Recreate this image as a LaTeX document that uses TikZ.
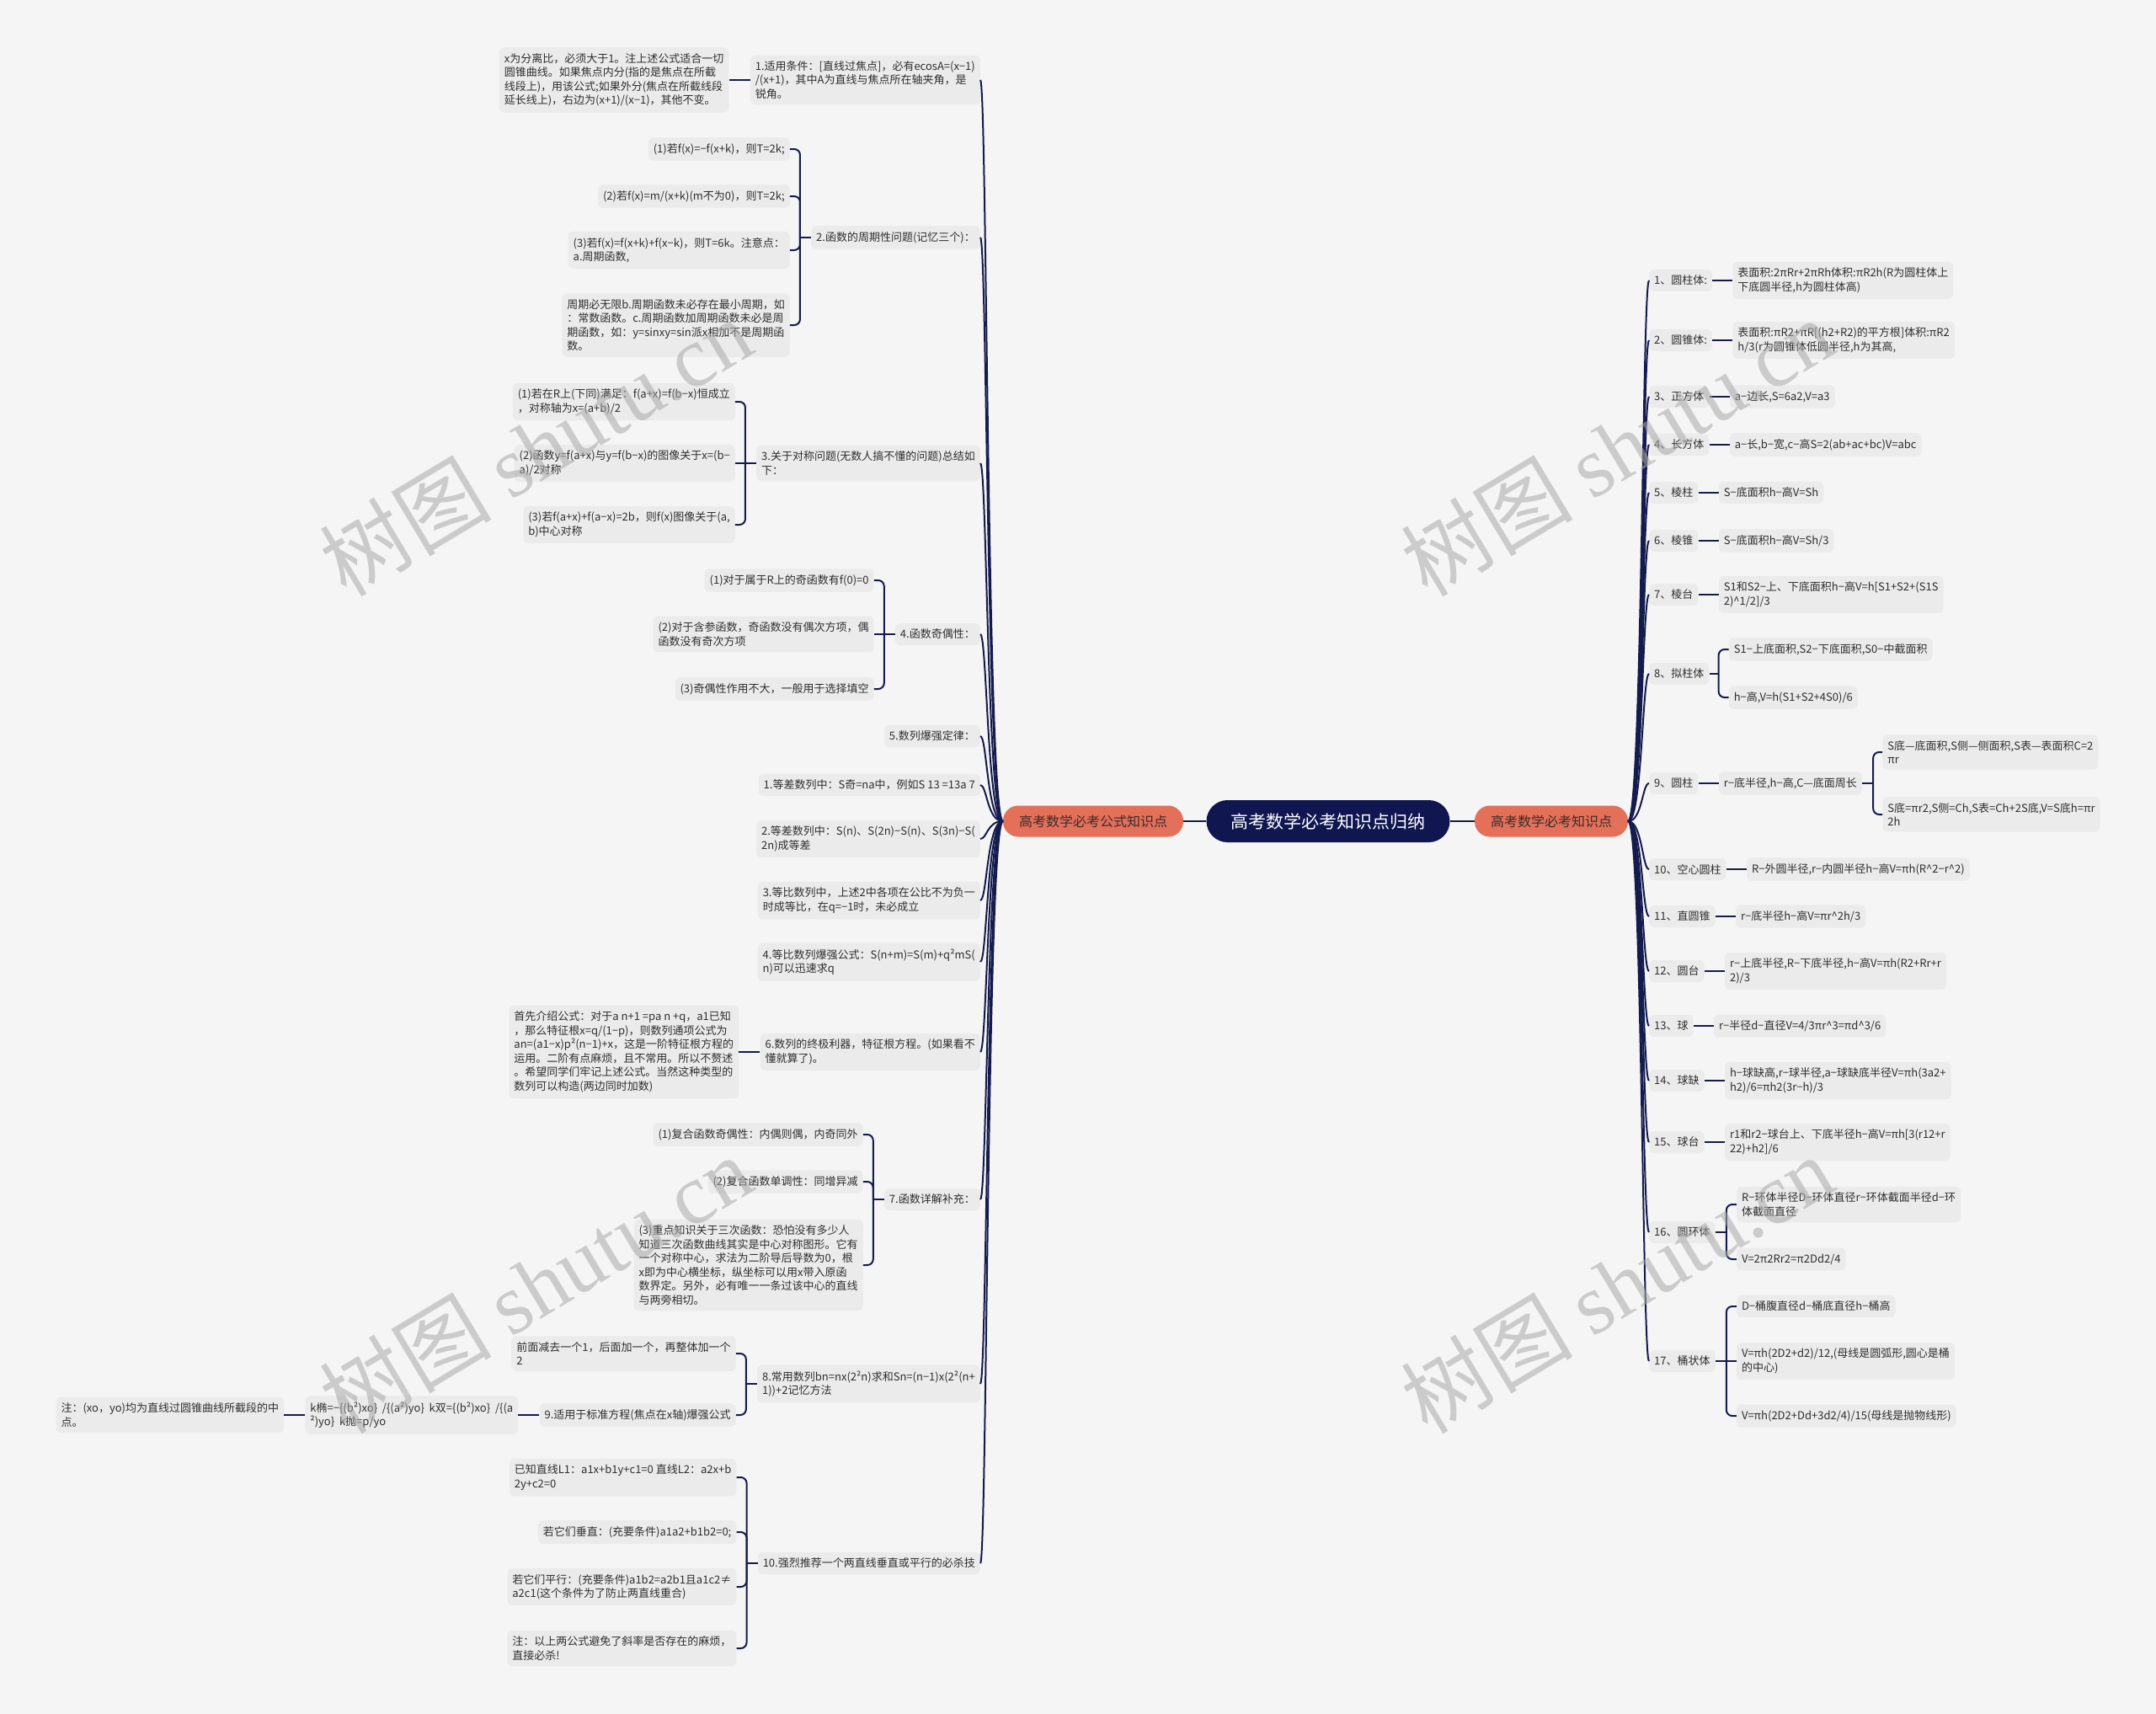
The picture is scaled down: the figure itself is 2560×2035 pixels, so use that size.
\documentclass[tikz,border=0pt]{standalone}
\usepackage{fontspec}
\setmainfont{Noto Sans CJK SC}
\newfontfamily\wmserif{Liberation Serif}
\newfontfamily\wmcjk{Noto Sans CJK SC}
\definecolor{bg}{HTML}{F5F5F5}
\definecolor{boxc}{HTML}{EBEBEB}
\definecolor{navy}{HTML}{141B4D}
\definecolor{rootc}{HTML}{0F1650}
\definecolor{salmon}{HTML}{E4705A}
\definecolor{txt}{HTML}{2E2E2E}
\definecolor{brtxt}{HTML}{3A2C2A}
\definecolor{wm}{HTML}{A9A9A9}
\newcommand\ca{\textasciicircum}
\begin{document}
\begin{tikzpicture}[x=1pt,y=-1pt,
  box/.style={fill=boxc, rounded corners=6pt, inner xsep=6pt, inner ysep=7pt, align=left, text=txt, font=\fontsize{13}{16.5}\selectfont},
  lbox/.style={box, anchor=east},
  rbox/.style={box, anchor=west},
  rootnode/.style={fill=rootc, text=white, rounded corners=25pt, minimum height=50pt, inner xsep=29pt, font=\fontsize{21}{24}\selectfont},
  branch/.style={fill=salmon, text=brtxt, rounded corners=18pt, minimum height=37pt, inner xsep=19pt, font=\fontsize{16}{18}\selectfont},
  conn/.style={draw=navy, line width=2pt},
  bconn/.style={conn, rounded corners=7pt},
  wmark/.style={text=wm, text opacity=0.55, rotate=31, font=\fontsize{102}{104}\selectfont}]
\useasboundingbox (0,0) rectangle (2560,2035);
\fill[bg] (0,0) rectangle (2560,2035);

% centre
\node[rootnode] (root) at (1577,975) {高考数学必考知识点归纳};
\node[branch] (LB) at (1298,975) {高考数学必考公式知识点};
\node[branch] (RB) at (1842,975) {高考数学必考知识点};
\draw[conn] (root.west) -- (LB.east);
\draw[conn] (root.east) -- (RB.west);

% ---------- left level 2
\node[lbox] (L1) at (1164,95) {1.适用条件：[直线过焦点]，必有ecosA=(x−1)\\/(x+1)，其中A为直线与焦点所在轴夹角，是\\锐角。};
\node[lbox] (L2) at (1164,282) {2.函数的周期性问题(记忆三个)：};
\node[lbox] (L3) at (1164,550) {3.关于对称问题(无数人搞不懂的问题)总结如\\下：};
\node[lbox] (L4) at (1164,753) {4.函数奇偶性：};
\node[lbox] (L5) at (1164,874) {5.数列爆强定律：};
\node[lbox] (L6) at (1164,932) {1.等差数列中：S奇=na中，例如S 13 =13a 7};
\node[lbox] (L7) at (1164,996) {2.等差数列中：S(n)、S(2n)−S(n)、S(3n)−S(\\2n)成等差};
\node[lbox] (L8) at (1164,1069) {3.等比数列中，上述2中各项在公比不为负一\\时成等比，在q=−1时，未必成立};
\node[lbox] (L9) at (1164,1142) {4.等比数列爆强公式：S(n+m)=S(m)+q²mS(\\n)可以迅速求q};
\node[lbox] (L10) at (1164,1249) {6.数列的终极利器，特征根方程。(如果看不\\懂就算了)。};
\node[lbox] (L11) at (1164,1424) {7.函数详解补充：};
\node[lbox] (L12) at (1164,1643) {8.常用数列bn=nx(2²n)求和Sn=(n−1)x(2²(n+\\1))+2记忆方法};
\node[lbox] (L13) at (1164,1856) {10.强烈推荐一个两直线垂直或平行的必杀技};

\coordinate (ltx) at (1172,0);
\foreach \n in {L1,L2,L3,L4,L5,L6,L7,L8,L9,L10,L11,L12,L13}
  \draw[conn] (LB.west) .. controls (1172,975) and (ltx |- \n.east) .. (\n.east);

% L1 child
\node[lbox] (L1c) at ([xshift=-25pt]L1.west) {x为分离比，必须大于1。注上述公式适合一切\\圆锥曲线。如果焦点内分(指的是焦点在所截\\线段上)，用该公式;如果外分(焦点在所截线段\\延长线上)，右边为(x+1)/(x−1)，其他不变。};
\draw[conn] (L1.west) -- (L1c.east);

% L2 bracket
\coordinate (j2) at ([xshift=-13pt]L2.west);
\coordinate (j2x) at ([xshift=-12pt]j2);
\node[lbox] (L2a) at (j2x |- 0,177) {(1)若f(x)=−f(x+k)，则T=2k;};
\node[lbox] (L2b) at (j2x |- 0,233) {(2)若f(x)=m/(x+k)(m不为0)，则T=2k;};
\node[lbox] (L2c) at (j2x |- 0,297) {(3)若f(x)=f(x+k)+f(x−k)，则T=6k。注意点：\\a.周期函数,};
\node[lbox] (L2d) at (j2x |- 0,386) {周期必无限b.周期函数未必存在最小周期，如\\：常数函数。c.周期函数加周期函数未必是周\\期函数，如：y=sinxy=sin派x相加不是周期函\\数。};
\draw[conn] (L2.west) -- (j2);
\foreach \c in {L2a,L2b,L2c,L2d} \draw[bconn] (j2) |- (\c.east);

% L3 bracket
\coordinate (j3) at ([xshift=-13pt]L3.west);
\coordinate (j3x) at ([xshift=-12pt]j3);
\node[lbox] (L3a) at (j3x |- 0,477) {(1)若在R上(下同)满足：f(a+x)=f(b−x)恒成立\\，对称轴为x=(a+b)/2};
\node[lbox] (L3b) at (j3x |- 0,550) {(2)函数y=f(a+x)与y=f(b−x)的图像关于x=(b−\\a)/2对称};
\node[lbox] (L3c) at (j3x |- 0,623) {(3)若f(a+x)+f(a−x)=2b，则f(x)图像关于(a,\\b)中心对称};
\draw[conn] (L3.west) -- (j3);
\draw[bconn] (j3) |- (L3a.east);
\draw[conn] (j3) -- (L3b.east);
\draw[bconn] (j3) |- (L3c.east);

% L4 bracket
\coordinate (j4) at ([xshift=-13pt]L4.west);
\coordinate (j4x) at ([xshift=-12pt]j4);
\node[lbox] (L4a) at (j4x |- 0,689) {(1)对于属于R上的奇函数有f(0)=0};
\node[lbox] (L4b) at (j4x |- 0,753) {(2)对于含参函数，奇函数没有偶次方项，偶\\函数没有奇次方项};
\node[lbox] (L4c) at (j4x |- 0,818) {(3)奇偶性作用不大，一般用于选择填空};
\draw[conn] (L4.west) -- (j4);
\draw[bconn] (j4) |- (L4a.east);
\draw[conn] (j4) -- (L4b.east);
\draw[bconn] (j4) |- (L4c.east);

% L10 child
\node[lbox] (L10c) at ([xshift=-25pt]L10.west) {首先介绍公式：对于a n+1 =pa n +q，a1已知\\，那么特征根x=q/(1−p)，则数列通项公式为\\an=(a1−x)p²(n−1)+x，这是一阶特征根方程的\\运用。二阶有点麻烦，且不常用。所以不赘述\\。希望同学们牢记上述公式。当然这种类型的\\数列可以构造(两边同时加数)};
\draw[conn] (L10.west) -- (L10c.east);

% L11 bracket
\coordinate (j11) at ([xshift=-13pt]L11.west);
\coordinate (j11x) at ([xshift=-12pt]j11);
\node[lbox] (L11a) at (j11x |- 0,1347) {(1)复合函数奇偶性：内偶则偶，内奇同外};
\node[lbox] (L11b) at (j11x |- 0,1403) {(2)复合函数单调性：同增异减};
\node[lbox] (L11c) at (j11x |- 0,1502) {(3)重点知识关于三次函数：恐怕没有多少人\\知道三次函数曲线其实是中心对称图形。它有\\一个对称中心，求法为二阶导后导数为0，根\\x即为中心横坐标，纵坐标可以用x带入原函\\数界定。另外，必有唯一一条过该中心的直线\\与两旁相切。};
\draw[conn] (L11.west) -- (j11);
\foreach \c in {L11a,L11b,L11c} \draw[bconn] (j11) |- (\c.east);

% L12 bracket
\coordinate (j12) at ([xshift=-13pt]L12.west);
\coordinate (j12x) at ([xshift=-12pt]j12);
\node[lbox] (L12a) at (j12x |- 0,1607) {前面减去一个1，后面加一个，再整体加一个\\2};
\node[lbox] (L12b) at (j12x |- 0,1680) {9.适用于标准方程(焦点在x轴)爆强公式};
\draw[conn] (L12.west) -- (j12);
\foreach \c in {L12a,L12b} \draw[bconn] (j12) |- (\c.east);
\node[lbox] (L12c) at ([xshift=-25pt]L12b.west) {k椭=−\{(b²)xo\}~~/\{(a²)yo\}~~k双=\{(b²)xo\}~~/\{(a\\²)yo\}~~k抛=p/yo};
\draw[conn] (L12b.west) -- (L12c.east);
\node[lbox] (L12d) at ([xshift=-25pt]L12c.west) {注：(xo，yo)均为直线过圆锥曲线所截段的中\\点。};
\draw[conn] (L12c.west) -- (L12d.east);

% L13 bracket
\coordinate (j13) at ([xshift=-13pt]L13.west);
\coordinate (j13x) at ([xshift=-12pt]j13);
\node[lbox] (L13a) at (j13x |- 0,1754) {已知直线L1：a1x+b1y+c1=0 直线L2：a2x+b\\2y+c2=0};
\node[lbox] (L13b) at (j13x |- 0,1819) {若它们垂直：(充要条件)a1a2+b1b2=0;};
\node[lbox] (L13c) at (j13x |- 0,1884) {若它们平行：(充要条件)a1b2=a2b1且a1c2≠\\a2c1(这个条件为了防止两直线重合)};
\node[lbox] (L13d) at (j13x |- 0,1957) {注：以上两公式避免了斜率是否存在的麻烦，\\直接必杀!};
\draw[conn] (L13.west) -- (j13);
\foreach \c in {L13a,L13b,L13c,L13d} \draw[bconn] (j13) |- (\c.east);

% ---------- right level 2
\node[rbox] (R1) at (1958,333) {1、圆柱体:};
\node[rbox] (R2) at (1958,404) {2、圆锥体:};
\node[rbox] (R3) at (1958,471) {3、正方体};
\node[rbox] (R4) at (1958,528) {4、长方体};
\node[rbox] (R5) at (1958,585) {5、棱柱};
\node[rbox] (R6) at (1958,642) {6、棱锥};
\node[rbox] (R7) at (1958,706) {7、棱台};
\node[rbox] (R8) at (1958,800) {8、拟柱体};
\node[rbox] (R9) at (1958,930) {9、圆柱};
\node[rbox] (R10) at (1958,1032) {10、空心圆柱};
\node[rbox] (R11) at (1958,1088) {11、直圆锥};
\node[rbox] (R12) at (1958,1153) {12、圆台};
\node[rbox] (R13) at (1958,1218) {13、球};
\node[rbox] (R14) at (1958,1283) {14、球缺};
\node[rbox] (R15) at (1958,1356) {15、球台};
\node[rbox] (R16) at (1958,1463) {16、圆环体};
\node[rbox] (R17) at (1958,1616) {17、桶状体};

\coordinate (rtx) at (1950,0);
\foreach \n in {R1,R2,R3,R4,R5,R6,R7,R8,R9,R10,R11,R12,R13,R14,R15,R16,R17}
  \draw[conn] (RB.east) .. controls (1950,975) and (rtx |- \n.west) .. (\n.west);

% right single children
\node[rbox] (R1c) at ([xshift=24pt]R1.east) {表面积:2πRr+2πRh体积:πR2h(R为圆柱体上\\下底圆半径,h为圆柱体高)};
\node[rbox] (R2c) at ([xshift=24pt]R2.east) {表面积:πR2+πR[(h2+R2)的平方根]体积:πR2\\h/3(r为圆锥体低圆半径,h为其高,};
\node[rbox] (R3c) at ([xshift=24pt]R3.east) {a−边长,S=6a2,V=a3};
\node[rbox] (R4c) at ([xshift=24pt]R4.east) {a−长,b−宽,c−高S=2(ab+ac+bc)V=abc};
\node[rbox] (R5c) at ([xshift=24pt]R5.east) {S−底面积h−高V=Sh};
\node[rbox] (R6c) at ([xshift=24pt]R6.east) {S−底面积h−高V=Sh/3};
\node[rbox] (R7c) at ([xshift=24pt]R7.east) {S1和S2−上、下底面积h−高V=h[S1+S2+(S1S\\2)\ca1/2]/3};
\node[rbox] (R9c) at ([xshift=24pt]R9.east) {r−底半径,h−高,C—底面周长};
\node[rbox] (R10c) at ([xshift=24pt]R10.east) {R−外圆半径,r−内圆半径h−高V=πh(R\ca2−r\ca2)};
\node[rbox] (R11c) at ([xshift=24pt]R11.east) {r−底半径h−高V=πr\ca2h/3};
\node[rbox] (R12c) at ([xshift=24pt]R12.east) {r−上底半径,R−下底半径,h−高V=πh(R2+Rr+r\\2)/3};
\node[rbox] (R13c) at ([xshift=24pt]R13.east) {r−半径d−直径V=4/3πr\ca3=πd\ca3/6};
\node[rbox] (R14c) at ([xshift=24pt]R14.east) {h−球缺高,r−球半径,a−球缺底半径V=πh(3a2+\\h2)/6=πh2(3r−h)/3};
\node[rbox] (R15c) at ([xshift=24pt]R15.east) {r1和r2−球台上、下底半径h−高V=πh[3(r12+r\\22)+h2]/6};
\foreach \n in {R1,R2,R3,R4,R5,R6,R7,R9,R10,R11,R12,R13,R14,R15}
  \draw[conn] (\n.east) -- (\n c.west);

% R8 bracket
\coordinate (k8) at ([xshift=11pt]R8.east);
\coordinate (k8x) at ([xshift=12pt]k8);
\node[rbox] (R8a) at (k8x |- 0,771) {S1−上底面积,S2−下底面积,S0−中截面积};
\node[rbox] (R8b) at (k8x |- 0,828) {h−高,V=h(S1+S2+4S0)/6};
\draw[conn] (R8.east) -- (k8);
\foreach \c in {R8a,R8b} \draw[bconn] (k8) |- (\c.west);

% R9c bracket
\coordinate (k9) at ([xshift=13pt]R9c.east);
\coordinate (k9x) at ([xshift=11pt]k9);
\node[rbox] (R9a) at (k9x |- 0,893) {S底—底面积,S侧—侧面积,S表—表面积C=2\\πr};
\node[rbox] (R9b) at (k9x |- 0,967) {S底=πr2,S侧=Ch,S表=Ch+2S底,V=S底h=πr\\2h};
\draw[conn] (R9c.east) -- (k9);
\foreach \c in {R9a,R9b} \draw[bconn] (k9) |- (\c.west);

% R16 bracket
\coordinate (k16) at ([xshift=13pt]R16.east);
\coordinate (k16x) at ([xshift=12pt]k16);
\node[rbox] (R16a) at (k16x |- 0,1430) {R−环体半径D−环体直径r−环体截面半径d−环\\体截面直径};
\node[rbox] (R16b) at (k16x |- 0,1495) {V=2π2Rr2=π2Dd2/4};
\draw[conn] (R16.east) -- (k16);
\foreach \c in {R16a,R16b} \draw[bconn] (k16) |- (\c.west);

% R17 bracket
\coordinate (k17) at ([xshift=13pt]R17.east);
\coordinate (k17x) at ([xshift=12pt]k17);
\node[rbox] (R17a) at (k17x |- 0,1551) {D−桶腹直径d−桶底直径h−桶高};
\node[rbox] (R17b) at (k17x |- 0,1616) {V=πh(2D2+d2)/12,(母线是圆弧形,圆心是桶\\的中心)};
\node[rbox] (R17c) at (k17x |- 0,1681) {V=πh(2D2+Dd+3d2/4)/15(母线是抛物线形)};
\draw[conn] (R17.east) -- (k17);
\draw[bconn] (k17) |- (R17a.west);
\draw[conn] (k17) -- (R17b.west);
\draw[bconn] (k17) |- (R17c.west);

% watermarks
\node[wmark] (w1) at (636,531) {\wmcjk 树图 \wmserif shutu.cn};
\node[wmark] (w2) at (636,1525) {\wmcjk 树图 \wmserif shutu.cn};
\node[wmark] (w3) at (1920,531) {\wmcjk 树图 \wmserif shutu.cn};
\node[wmark] (w4) at (1920,1525) {\wmcjk 树图 \wmserif shutu.cn};
\end{tikzpicture}
\end{document}
